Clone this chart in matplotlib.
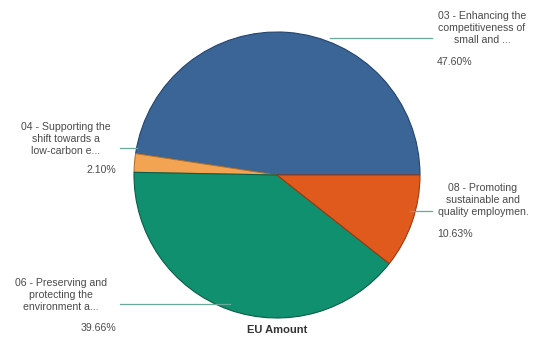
import matplotlib
matplotlib.use("Agg")
import matplotlib.pyplot as plt

labels = ["03 - Enhancing the\ncompetitiveness of\nsmall and ...",
          "04 - Supporting the\nshift towards a\nlow-carbon e...",
          "06 - Preserving and\nprotecting the\nenvironment a...",
          "08 - Promoting\nsustainable and\nquality employmen."]
values = [47.60, 2.10, 39.66, 10.63]
pct_labels = ["47.60%", "2.10%", "39.66%", "10.63%"]
colors = ["#3b6597", "#f2a453", "#10906e", "#e05a1d"]
edges = ["#22446e", "#b5722d", "#0a5e47", "#9e3a0f"]
title = "EU Amount"

W, H = 543, 340
fig = plt.figure(figsize=(W/100, H/100), dpi=100)
ax = fig.add_axes([0, 0, 1, 1])
ax.set_xlim(0, W)
ax.set_ylim(0, H)
ax.set_aspect("equal")
ax.axis("off")

cx, cy, r = 277, H - 175, 143
wedges, _ = ax.pie(values, colors=colors, startangle=0, counterclock=True,
                   center=(cx, cy), radius=r, frame=True,
                   wedgeprops=dict(linewidth=0.8))
for w, e in zip(wedges, edges):
    w.set_edgecolor(e)
ax.set_xlim(0, W)
ax.set_ylim(0, H)
ax.axis("off")

lc = "#6aa89a"
fs = 7.6
tc = "#4a4a4a"
font = "Liberation Sans"
ls = 1.2
# leader lines and labels
ax.plot([330, 432], [H-38, H-38], color=lc, lw=0.9)
ax.text(482, H-28, labels[0], ha="center", va="center", fontsize=fs, color=tc, family=font, linespacing=ls)
ax.text(437, H-62, pct_labels[0], ha="left", va="center", fontsize=fs, color=tc, family=font)

ax.plot([120, 137], [H-148, H-148], color=lc, lw=0.9)
ax.text(66, H-139, labels[1], ha="center", va="center", fontsize=fs, color=tc, family=font, linespacing=ls)
ax.text(116, H-170, pct_labels[1], ha="right", va="center", fontsize=fs, color=tc, family=font)

ax.plot([120, 230], [H-304, H-304], color=lc, lw=0.9)
ax.text(61, H-295, labels[2], ha="center", va="center", fontsize=fs, color=tc, family=font, linespacing=ls)
ax.text(116, H-328, pct_labels[2], ha="right", va="center", fontsize=fs, color=tc, family=font)

ax.plot([410, 432], [H-211, H-211], color=lc, lw=0.9)
ax.text(483, H-200, labels[3], ha="center", va="center", fontsize=fs, color=tc, family=font, linespacing=ls)
ax.text(437, H-234, pct_labels[3], ha="left", va="center", fontsize=fs, color=tc, family=font)

ax.text(cx, H-330, title, ha="center", va="center", fontsize=8, fontweight="bold", color="#333333", family=font)

fig.savefig("out.png", dpi=100)
